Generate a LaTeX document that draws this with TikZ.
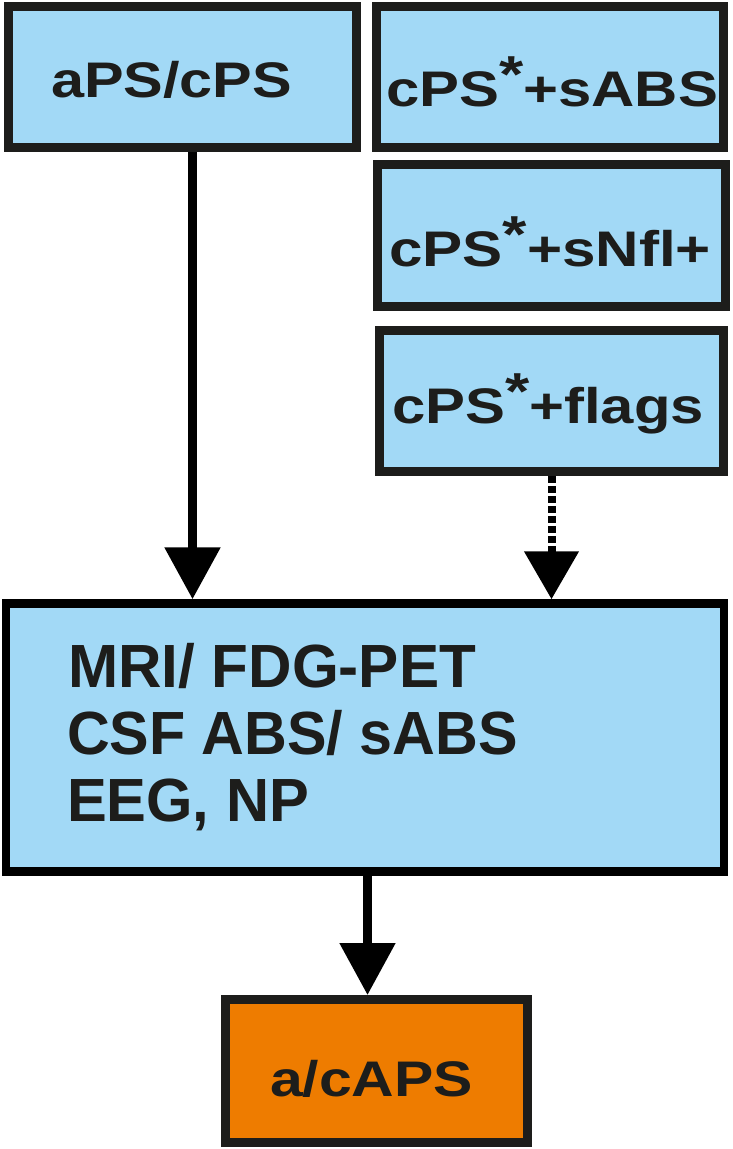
\documentclass[tikz,border=0pt]{standalone}
\usepackage{fontspec}
\usepackage{graphicx}
\setmainfont{Liberation Sans}
\usetikzlibrary{arrows.meta}
\definecolor{boxblue}{RGB}{162,217,246}
\definecolor{boxorange}{RGB}{238,124,0}
\definecolor{boxline}{RGB}{29,29,27}
\newcommand{\mystar}{\raisebox{14pt}{\fontsize{52}{52}\selectfont *}}
\newcommand{\smalltxt}[2]{\fontsize{50}{50}\selectfont\bfseries\resizebox{#1}{\height}{#2}}
\newcommand{\bigtxt}[2]{\fontsize{61}{61}\selectfont\bfseries\resizebox{#1}{\height}{#2}}
\begin{document}
\begin{tikzpicture}[x=1pt,y=-1pt,
  bluebox/.style={draw=boxline,fill=boxblue,line width=9pt,inner sep=0pt,rectangle},
  orangebox/.style={draw=boxline,fill=boxorange,line width=9pt,inner sep=0pt,rectangle},
  lbl/.style={anchor=base west,inner sep=0pt,outer sep=0pt,text=boxline},
  arr/.style={draw=black,line width=9pt,-{Triangle[width=54pt,length=52pt]}},
  dotarr/.style={draw=black,line width=8pt,dash pattern=on 6.5pt off 3.5pt,-{Triangle[width=53pt,length=48pt]}}
]
\useasboundingbox (0,0) rectangle (733,1149);
\fill[white] (0,0) rectangle (733,1149);
% boxes
\node[bluebox,minimum width=348pt,minimum height=141pt] (b1) at (182.5,77) {};
\node[bluebox,minimum width=347pt,minimum height=141pt] (b2) at (550,77) {};
\node[bluebox,minimum width=348pt,minimum height=142pt] (b3) at (551.5,235.5) {};
\node[bluebox,minimum width=344pt,minimum height=141pt] (b4) at (551.5,401) {};
\node[bluebox,draw=black,line width=8.5pt,minimum width=718pt,minimum height=268pt] (big) at (365,737.5) {};
\node[orangebox,minimum width=302pt,minimum height=143pt] (res) at (376.5,1071) {};
% texts
\node[lbl] (t1) at (51,97) {\smalltxt{241pt}{aPS/cPS}};
\node[lbl] (t2) at (386,106) {\smalltxt{332pt}{cPS\mystar+sABS}};
\node[lbl] (t3) at (389,266) {\smalltxt{322pt}{cPS\mystar+sNfl+}};
\node[lbl] (t4) at (392,423) {\smalltxt{312pt}{cPS\mystar+flags}};
\node[lbl] (t5a) at (68,687) {\bigtxt{408pt}{MRI/ FDG-PET}};
\node[lbl] (t5b) at (67,754) {\bigtxt{451pt}{CSF ABS/ sABS}};
\node[lbl] (t5c) at (67,821) {\bigtxt{242pt}{EEG, NP}};
\node[lbl] (t6) at (270,1096) {\smalltxt{203pt}{a/cAPS}};
% connectors
\draw[arr] ([xshift=10pt]b1.south) -- ([xshift=10pt]b1.south |- big.north);
\draw[dotarr] (b4.south) -- (b4.south |- big.north);
\draw[arr,line width=8.5pt] ([xshift=2.5pt]big.south) -- ([xshift=2.5pt]big.south |- res.north);
\end{tikzpicture}
\end{document}
